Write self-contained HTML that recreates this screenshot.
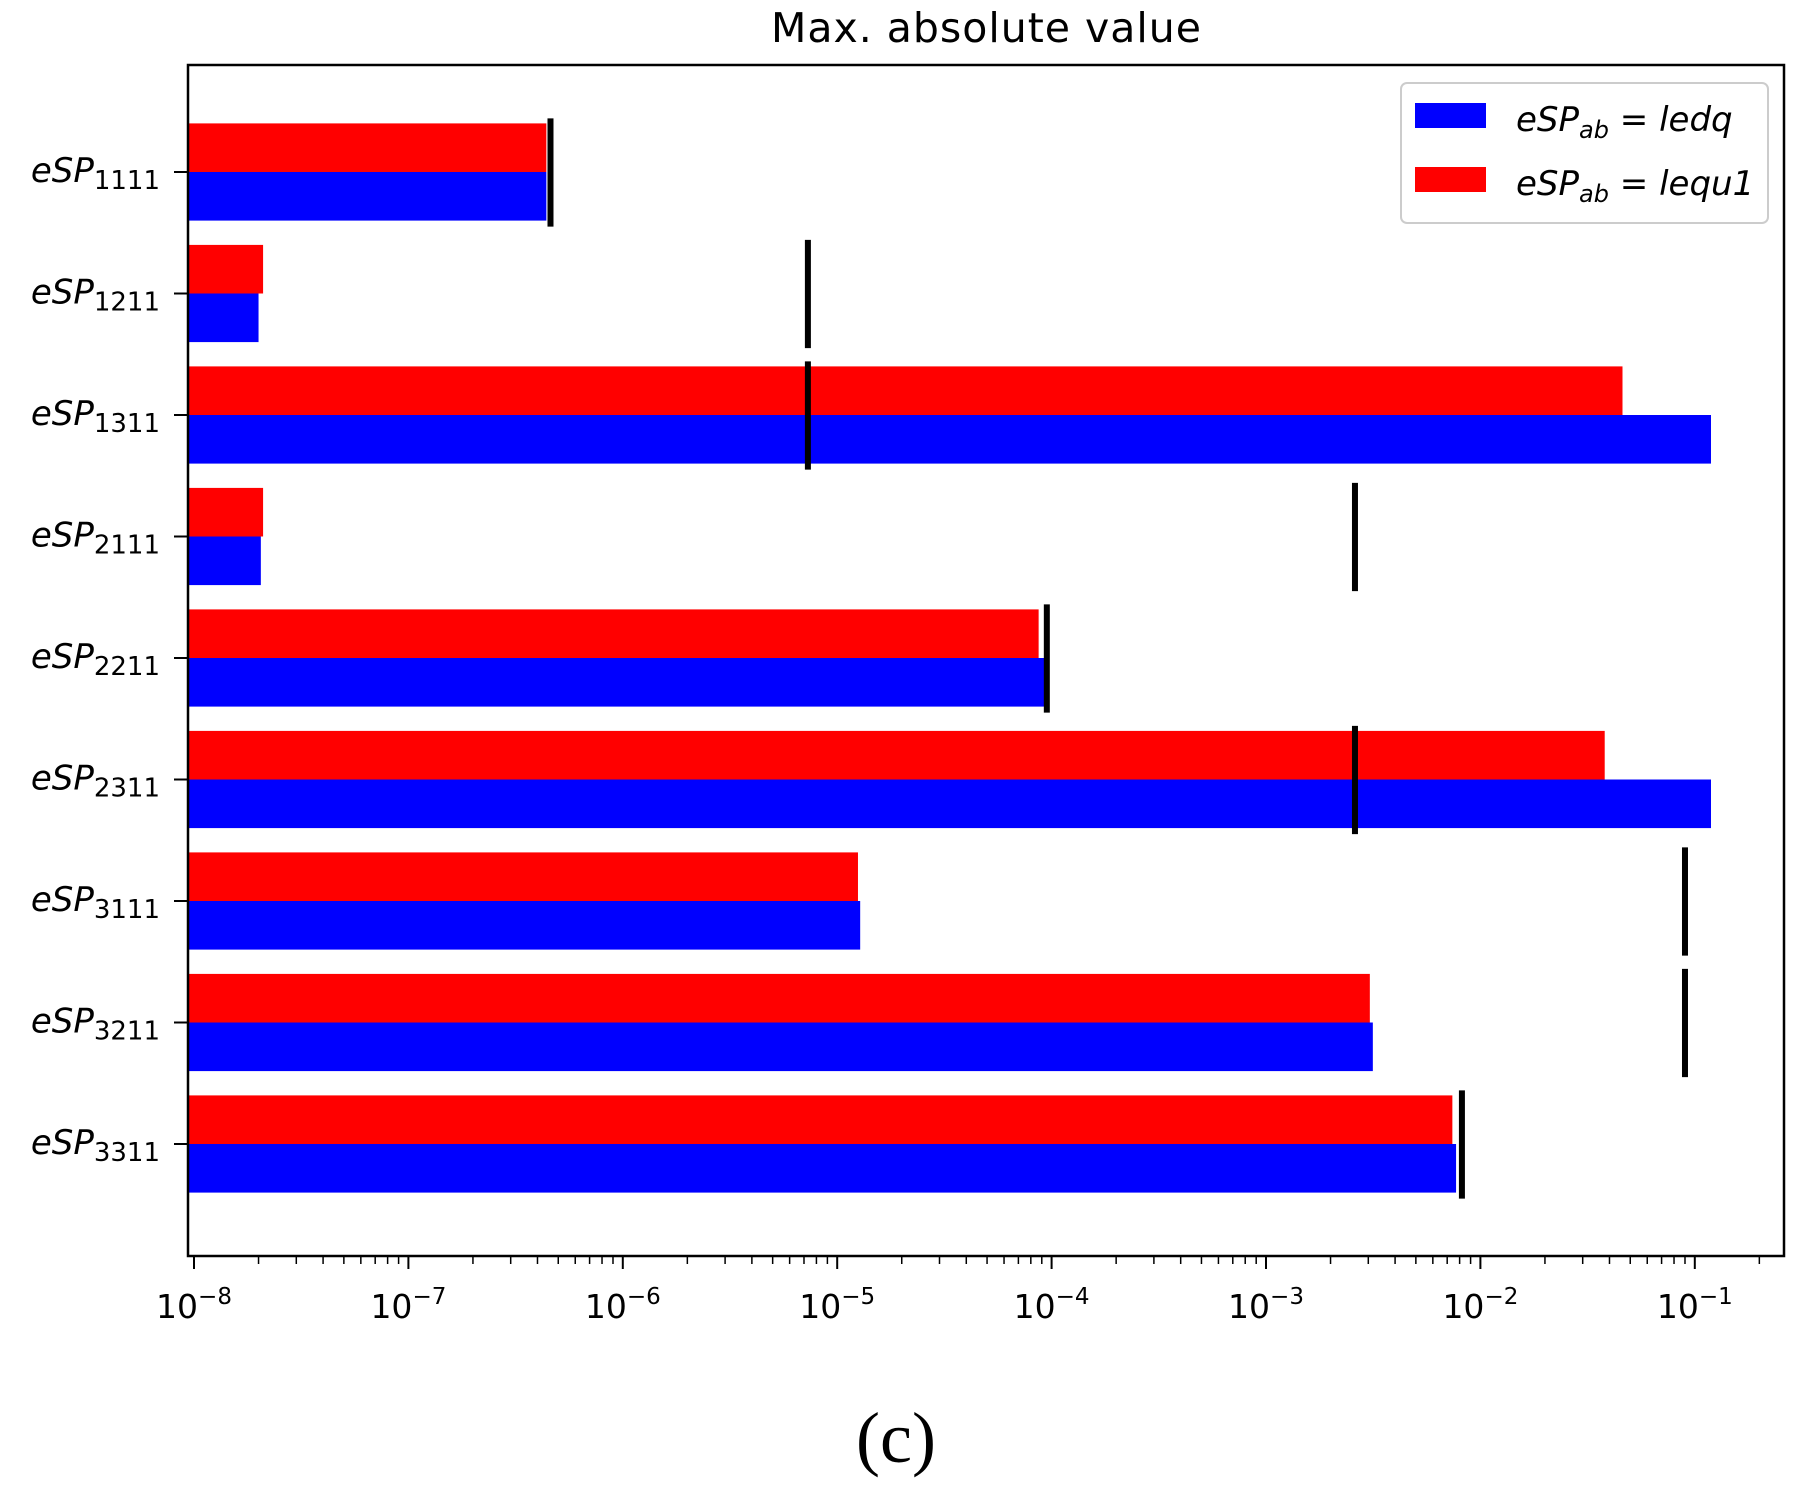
<!DOCTYPE html>
<html><head><meta charset="utf-8"><style>
html,body{margin:0;padding:0;background:#fff;}
svg{display:block;}
</style></head><body>
<svg id="chart" width="1814" height="1494" viewBox="0 0 1814 1494" xmlns="http://www.w3.org/2000/svg" font-family="'DejaVu Sans', 'Liberation Sans', sans-serif">
<text x="986" y="42" font-size="41" text-anchor="middle" fill="#000" textLength="430">Max. absolute value</text>
<g id="plot"></g>
<g>
<rect x="1401" y="83" width="367" height="140" rx="6" fill="#fff" stroke="#ccc" stroke-width="2"/>
<rect x="1415" y="103" width="71" height="25" fill="#0000ff"/>
<text x="1516" y="131" font-size="34" font-style="italic">eSP<tspan font-size="24" dy="7">ab</tspan><tspan dy="-7" font-style="normal"> = </tspan>ledq</text>
<rect x="1415" y="167" width="71" height="25" fill="#ff0000"/>
<text x="1516" y="195" font-size="34" font-style="italic">eSP<tspan font-size="24" dy="7">ab</tspan><tspan dy="-7" font-style="normal"> = </tspan>lequ1</text>
</g>
<text x="896" y="1462" font-size="72" text-anchor="middle" font-family="'Liberation Serif', serif">(c)</text>
</svg>
<script>
const categories = ['1111','1211','1311','2111','2211','2311','3111','3211','3311'];
const ledqValues = [4.4e-7, 2.0e-8, 0.119, 2.05e-8, 9.3e-5, 0.119, 1.28e-5, 3.15e-3, 7.7e-3];
const lequ1Values = [4.4e-7, 2.1e-8, 0.046, 2.1e-8, 8.7e-5, 0.038, 1.25e-5, 3.05e-3, 7.4e-3];
const thresholdValues = [4.6e-7, 7.3e-6, 7.3e-6, 2.6e-3, 9.5e-5, 2.6e-3, 0.09, 0.09, 8.2e-3];
const tickExponents = [-8,-7,-6,-5,-4,-3,-2,-1];

const NS='http://www.w3.org/2000/svg';
const L=188, R=1784, T=65, B=1256;
const X0=194, DEC=214.4;
const y0=172, STEP=121.5, BH=48.6;
function xs(v){return X0+(Math.log10(v)+8)*DEC;}
function ys(i){return y0+i*STEP;}
const g=document.getElementById('plot');
function mk(tag,attrs){const e=document.createElementNS(NS,tag);for(const k in attrs)e.setAttribute(k,attrs[k]);g.appendChild(e);return e;}

categories.forEach((c,i)=>{
  const cy=ys(i);
  const r=mk('rect',{x:L,y:cy-BH,width:xs(lequ1Values[i])-L,height:BH,fill:'#ff0000'});
  
  
  const b=mk('rect',{x:L,y:cy,width:xs(ledqValues[i])-L,height:BH,fill:'#0000ff'});
  
  
});
categories.forEach((c,i)=>{
  const cy=ys(i);
  const m=mk('line',{x1:xs(thresholdValues[i]),x2:xs(thresholdValues[i]),y1:cy-BH-5,y2:cy+BH+6,stroke:'#000','stroke-width':6});
  
  
  const t=mk('line',{x1:L-14,x2:L,y1:cy,y2:cy,stroke:'#000','stroke-width':2});
  
  
  const lb=mk('text',{x:160,y:cy+10,'font-size':34,'text-anchor':'end','font-style':'italic'});
  
  
  lb.innerHTML='eSP<tspan font-style="normal" font-size="26" dy="7">'+c+'</tspan>';
});
const frame=mk('rect',{x:L,y:T,width:R-L,height:B-T,fill:'none',stroke:'#000','stroke-width':2.5});


tickExponents.forEach(e=>{
  const x=xs(Math.pow(10,e));
  const t=mk('line',{x1:x,x2:x,y1:B,y2:B+13,stroke:'#000','stroke-width':2});
  
  
  const lb=mk('text',{x:x,y:1318,'font-size':33,'text-anchor':'middle'});
  
  
  lb.innerHTML='10<tspan font-size="23" dy="-14">\u2212'+Math.abs(e)+'</tspan>';
  for(let k=2;k<10;k++){
    const xm=xs(k*Math.pow(10,e));
    if(xm>R) continue;
    const mt=mk('line',{x1:xm,x2:xm,y1:B,y2:B+8,stroke:'#000','stroke-width':1.5});
    
    
  }
});
</script>
</body></html>
